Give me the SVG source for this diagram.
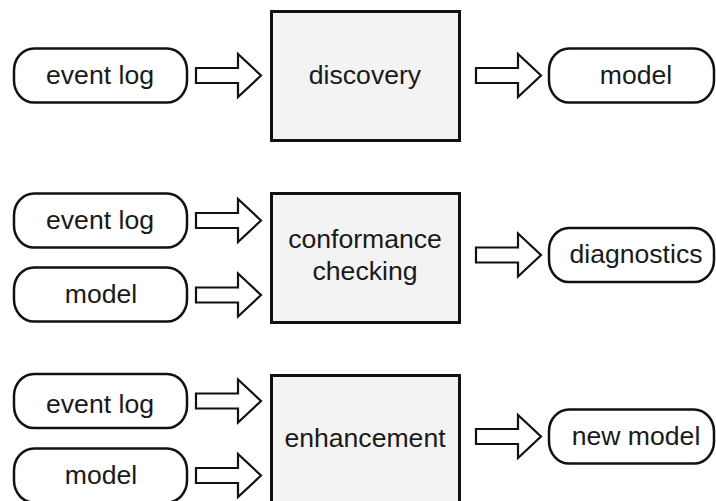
<svg xmlns="http://www.w3.org/2000/svg" width="716" height="501" viewBox="0 0 716 501">
<defs>
<style>
.pill{fill:#fff;stroke:#111;stroke-width:2.5}
.box{fill:#f3f3f3;stroke:#111;stroke-width:3}
.arr{fill:#fff;stroke:#111;stroke-width:2.2;stroke-linejoin:miter}
text{font-family:"Liberation Sans",Arial,sans-serif;font-size:26.6px;fill:#1a1a1a;text-anchor:middle}
</style>
<path id="arrow" d="M0,-7.5 H42 V-21.5 L65,0 L42,21.5 V7.5 H0 Z"/>
</defs>
<rect width="716" height="501" fill="#fff"/>
<g id="connectors">
<use href="#arrow" class="arr" x="196" y="75.5"/>
<use href="#arrow" class="arr" x="476" y="75.5"/>
<use href="#arrow" class="arr" x="196" y="220.5"/>
<use href="#arrow" class="arr" x="196" y="295"/>
<use href="#arrow" class="arr" x="476" y="255"/>
<use href="#arrow" class="arr" x="196" y="401"/>
<use href="#arrow" class="arr" x="196" y="475.5"/>
<use href="#arrow" class="arr" x="476" y="436.5"/>
</g>
<g id="r1-eventlog"><rect class="pill" x="14" y="48.5" width="173" height="54" rx="20" ry="22"/><text x="100" y="84">event log</text></g>
<g id="r1-discovery"><rect class="box" x="271.5" y="11.5" width="188" height="129"/><text x="365" y="84">discovery</text></g>
<g id="r1-model"><rect class="pill" x="549" y="48.5" width="165" height="54" rx="20" ry="22"/><text x="636" y="84">model</text></g>
<g id="r2-eventlog"><rect class="pill" x="14" y="193.5" width="173" height="54" rx="20" ry="22"/><text x="100" y="229">event log</text></g>
<g id="r2-model"><rect class="pill" x="14" y="267.5" width="173" height="54" rx="20" ry="22"/><text x="101" y="303">model</text></g>
<g id="r2-conformance"><rect class="box" x="271.5" y="193.5" width="188" height="129"/><text x="365" y="248">conformance</text><text x="365" y="280">checking</text></g>
<g id="r2-diagnostics"><rect class="pill" x="549" y="228" width="165" height="54" rx="20" ry="22"/><text x="636" y="263">diagnostics</text></g>
<g id="r3-eventlog"><rect class="pill" x="14" y="374" width="173" height="54" rx="20" ry="22"/><text x="100" y="413">event log</text></g>
<g id="r3-model"><rect class="pill" x="14" y="448.5" width="173" height="54" rx="20" ry="22"/><text x="101" y="484">model</text></g>
<g id="r3-enhancement"><rect class="box" x="271.5" y="375.5" width="188" height="129"/><text x="365" y="447">enhancement</text></g>
<g id="r3-newmodel"><rect class="pill" x="549" y="409.5" width="165" height="54" rx="20" ry="22"/><text x="636" y="445">new model</text></g>
</svg>
